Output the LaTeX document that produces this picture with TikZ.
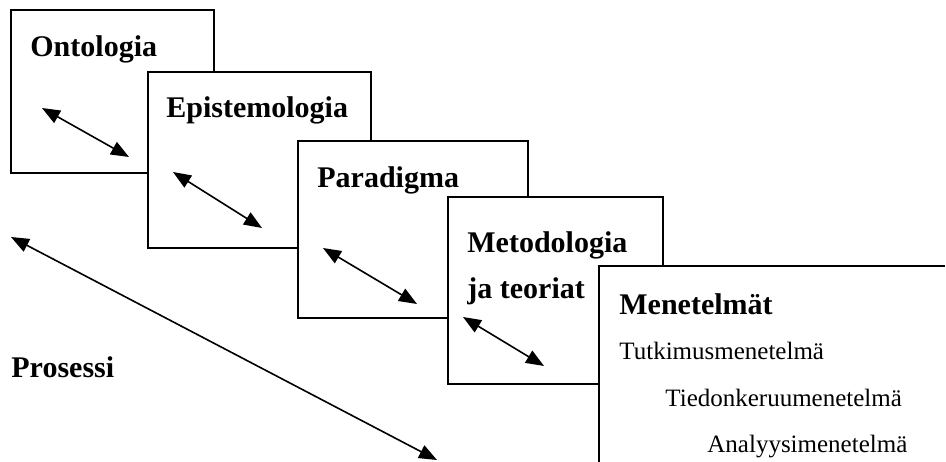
\documentclass[tikz,border=0pt]{standalone}
\usepackage{fontspec}
\setmainfont{Liberation Serif}
\usepackage{tikz}
\usetikzlibrary{positioning,arrows.meta}

\tikzset{
  layer/.style={draw=black,line width=1.1pt,fill=white,inner sep=0pt,anchor=north west},
  head/.style={font=\fontsize{15}{18}\selectfont\bfseries,inner sep=0pt,anchor=base west},
  item/.style={font=\fontsize{12.5}{15}\selectfont,inner sep=0pt,anchor=base west},
  link/.style={line width=0.8pt,{Triangle[length=9pt,width=7pt]}-{Triangle[length=9pt,width=7pt]}}
}

\begin{document}
\begin{tikzpicture}[x=0.5pt,y=0.5pt]
\clip (0,0) rectangle (946,461);
% the layers, back to front
\node[layer,minimum width=101.5pt,minimum height=81.5pt] (ont) at (10,452) {};
\node[layer,minimum width=111.5pt,minimum height=88pt] (epi) at (147,390) {};
\node[layer,minimum width=115pt,minimum height=88.5pt] (par) at (297,321) {};
\node[layer,minimum width=107.5pt,minimum height=93.5pt] (met) at (447,265) {};
\node[layer,draw=none,minimum width=172pt,minimum height=120pt] (men) at (599,195) {};
\draw[line width=1.1pt] (men.north east) -- (men.north west) -- (men.south west);

% titles
\node[head] (ontT) at (30,404) {Ontologia};
\node[head] (epiT) at (166,343) {Epistemologia};
\node[head] (parT) at (317,273) {Paradigma};
\node[head] (metT) at (467,209) {Metodologia};
\node[head] (metT2) at ([yshift=-23pt]metT.base west) {ja teoriat};
\node[head] (menT) at (619,147) {Menetelmät};
\node[item] (tut) at (619,102) {Tutkimusmenetelmä};
\node[item] (tie) at (665,55) {Tiedonkeruumenetelmä};
\node[item] (ana) at (707,9) {Analyysimenetelmä};
\node[head] (pro) at (11,84) {Prosessi};

% arrows
\coordinate (a1) at (42,353); \coordinate (b1) at (129,304);
\coordinate (a2) at (173,289); \coordinate (b2) at (262,233);
\coordinate (a3) at (323,213); \coordinate (b3) at (417,157);
\coordinate (a4) at (463,144); \coordinate (b4) at (544,95);
\coordinate (a5) at (11,224); \coordinate (b5) at (437,1);
\draw[link] (a1) -- (b1);
\draw[link] (a2) -- (b2);
\draw[link] (a3) -- (b3);
\draw[link] (a4) -- (b4);
\draw[link] (a5) -- (b5);
\end{tikzpicture}
\end{document}
